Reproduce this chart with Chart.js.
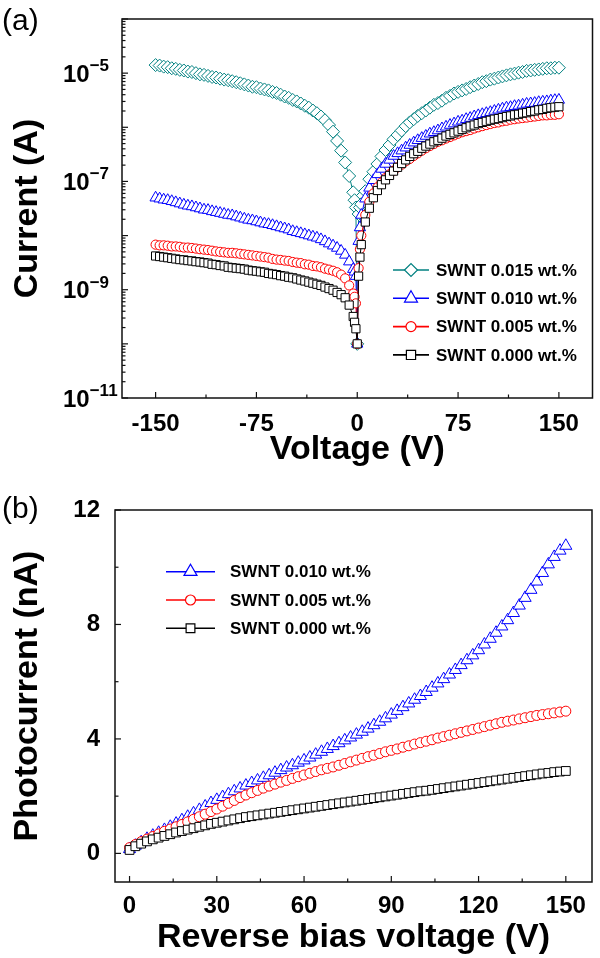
<!DOCTYPE html>
<html>
<head>
<meta charset="utf-8">
<script src="https://cdn.jsdelivr.net/npm/chart.js@4.4.1/dist/chart.umd.min.js"></script>
<style>
  body { margin: 0; background: #fff; }
  #wrap { position: relative; width: 600px; height: 958px; font-family: 'Liberation Sans', Arial, sans-serif; }
  canvas { position: absolute; left: 0; }
  #chartA { top: 0; }
  #chartB { top: 470px; }
  .panel { position: absolute; left: 2px; font-size: 30px; line-height: 30px; color: #000; }
</style>
</head>
<body>
<div id="wrap">
  <canvas id="chartA" width="600" height="470"></canvas>
  <canvas id="chartB" width="600" height="488"></canvas>
  <div class="panel" style="top:5px">(a)</div>
  <div class="panel" style="top:493px">(b)</div>
</div>
<script>
// (a) I-V curves, voltage in V, current in A
const voltA = [-150,-147,-144,-141,-138,-135,-132,-129,-126,-123,
  -120,-117,-114,-111,-108,-105,-102,-99,-96,-93,
  -90,-87,-84,-81,-78,-75,-72,-69,-66,-63,
  -60,-57,-54,-51,-48,-45,-42,-39,-36,-33,
  -30,-27,-24,-21,-18,-15,-12,-9,-6,-3,
  -2,-1,0,1,2,
  3,6,9,12,15,18,21,24,27,30,
  33,36,39,42,45,48,51,54,57,60,
  63,66,69,72,75,78,81,84,87,90,
  93,96,99,102,105,108,111,114,117,120,
  123,126,129,132,135,138,141,144,147,150];

const cur015 = [1.41e-5,1.38e-5,1.32e-5,1.29e-5,1.23e-5,1.20e-5,1.15e-5,1.12e-5,1.07e-5,1.05e-5,
  1.00e-5,9.5e-6,9.3e-6,8.9e-6,8.5e-6,8.3e-6,7.9e-6,7.6e-6,7.4e-6,7.1e-6,
  6.8e-6,6.5e-6,6.2e-6,5.9e-6,5.6e-6,5.5e-6,5.2e-6,5.0e-6,4.8e-6,4.5e-6,
  4.3e-6,4.0e-6,3.7e-6,3.5e-6,3.2e-6,3.0e-6,2.75e-6,2.5e-6,2.3e-6,2.04e-6,
  1.82e-6,1.58e-6,1.35e-6,1.10e-6,8.3e-7,5.6e-7,3.7e-7,2.24e-7,1.26e-7,6.3e-8,
  4.5e-8,3.3e-8,1.0e-10,2.5e-8,3.3e-8,
  3.8e-8,6.6e-8,1.10e-7,1.51e-7,2.1e-7,2.9e-7,3.8e-7,4.7e-7,6.0e-7,7.2e-7,
  8.7e-7,1.05e-6,1.23e-6,1.41e-6,1.62e-6,1.82e-6,2.04e-6,2.3e-6,2.6e-6,2.8e-6,
  3.1e-6,3.5e-6,3.8e-6,4.2e-6,4.5e-6,4.8e-6,5.1e-6,5.5e-6,5.9e-6,6.3e-6,
  6.8e-6,7.1e-6,7.6e-6,7.9e-6,8.3e-6,8.7e-6,9.1e-6,9.5e-6,9.8e-6,1.02e-5,
  1.05e-5,1.10e-5,1.12e-5,1.15e-5,1.17e-5,1.20e-5,1.23e-5,1.23e-5,1.26e-5,1.26e-5];

const cur010 = [5.0e-8,4.8e-8,4.6e-8,4.5e-8,4.3e-8,4.1e-8,3.9e-8,3.7e-8,3.55e-8,3.45e-8,
  3.3e-8,3.16e-8,3.0e-8,2.95e-8,2.8e-8,2.7e-8,2.6e-8,2.5e-8,2.4e-8,2.35e-8,
  2.24e-8,2.14e-8,2.04e-8,1.95e-8,1.9e-8,1.82e-8,1.74e-8,1.66e-8,1.62e-8,1.55e-8,
  1.48e-8,1.41e-8,1.35e-8,1.29e-8,1.2e-8,1.15e-8,1.10e-8,1.05e-8,1.0e-8,9.5e-9,
  9.1e-9,8.5e-9,7.8e-9,7.1e-9,6.5e-9,5.9e-9,5.2e-9,4.4e-9,3.3e-9,2.4e-9,
  2.14e-9,1.78e-9,1.0e-10,7.9e-9,1.41e-8,
  2.4e-8,4.8e-8,7.6e-8,1.05e-7,1.35e-7,1.7e-7,2.1e-7,2.5e-7,2.95e-7,3.3e-7,
  3.7e-7,4.2e-7,4.7e-7,5.2e-7,5.75e-7,6.3e-7,6.9e-7,7.6e-7,8.1e-7,8.7e-7,
  9.5e-7,1.02e-6,1.10e-6,1.17e-6,1.26e-6,1.32e-6,1.41e-6,1.48e-6,1.58e-6,1.66e-6,
  1.74e-6,1.82e-6,1.9e-6,2.0e-6,2.1e-6,2.2e-6,2.3e-6,2.35e-6,2.45e-6,2.5e-6,
  2.6e-6,2.7e-6,2.75e-6,2.8e-6,2.9e-6,2.95e-6,3.0e-6,3.1e-6,3.16e-6,3.2e-6];

const cur005 = [6.8e-9,6.6e-9,6.6e-9,6.5e-9,6.3e-9,6.3e-9,6.2e-9,6.0e-9,6.0e-9,5.9e-9,
  5.75e-9,5.6e-9,5.5e-9,5.4e-9,5.25e-9,5.1e-9,5.0e-9,4.9e-9,4.8e-9,4.8e-9,
  4.7e-9,4.6e-9,4.5e-9,4.4e-9,4.3e-9,4.2e-9,4.1e-9,4.0e-9,3.9e-9,3.7e-9,
  3.6e-9,3.55e-9,3.45e-9,3.4e-9,3.25e-9,3.16e-9,3.1e-9,2.95e-9,2.9e-9,2.75e-9,
  2.7e-9,2.6e-9,2.45e-9,2.35e-9,2.24e-9,2.1e-9,1.9e-9,1.62e-9,1.2e-9,8.5e-10,
  7.4e-10,5.6e-10,1.0e-10,2.5e-9,5.6e-9,
  1.0e-8,2.4e-8,4.2e-8,6.0e-8,7.8e-8,9.5e-8,1.15e-7,1.35e-7,1.58e-7,1.82e-7,
  2.04e-7,2.35e-7,2.6e-7,2.95e-7,3.3e-7,3.7e-7,4.1e-7,4.5e-7,4.9e-7,5.4e-7,
  5.75e-7,6.2e-7,6.6e-7,7.1e-7,7.6e-7,8.1e-7,8.5e-7,8.9e-7,9.5e-7,1.0e-6,
  1.05e-6,1.10e-6,1.15e-6,1.2e-6,1.23e-6,1.29e-6,1.32e-6,1.38e-6,1.41e-6,1.45e-6,
  1.48e-6,1.51e-6,1.55e-6,1.58e-6,1.62e-6,1.66e-6,1.66e-6,1.7e-6,1.7e-6,1.74e-6];

const cur000 = [4.2e-9,4.1e-9,4.0e-9,3.9e-9,3.8e-9,3.7e-9,3.6e-9,3.55e-9,3.45e-9,3.4e-9,
  3.3e-9,3.25e-9,3.16e-9,3.1e-9,2.95e-9,2.9e-9,2.8e-9,2.75e-9,2.6e-9,2.55e-9,
  2.5e-9,2.45e-9,2.4e-9,2.3e-9,2.24e-9,2.2e-9,2.14e-9,2.1e-9,2.0e-9,1.95e-9,
  1.9e-9,1.82e-9,1.78e-9,1.7e-9,1.66e-9,1.58e-9,1.51e-9,1.45e-9,1.38e-9,1.32e-9,
  1.26e-9,1.2e-9,1.12e-9,1.05e-9,9.8e-10,8.9e-10,8.1e-10,7.1e-10,5.2e-10,3.2e-10,
  2.5e-10,1.9e-10,1.0e-10,1.78e-9,4.0e-9,
  6.8e-9,1.78e-8,3.2e-8,5.0e-8,6.8e-8,8.7e-8,1.07e-7,1.29e-7,1.55e-7,1.82e-7,
  2.14e-7,2.5e-7,2.9e-7,3.25e-7,3.6e-7,4.1e-7,4.5e-7,4.9e-7,5.4e-7,5.75e-7,
  6.3e-7,6.9e-7,7.4e-7,7.9e-7,8.5e-7,9.1e-7,9.8e-7,1.05e-6,1.10e-6,1.17e-6,
  1.23e-6,1.29e-6,1.35e-6,1.41e-6,1.45e-6,1.51e-6,1.58e-6,1.62e-6,1.7e-6,1.74e-6,
  1.82e-6,1.86e-6,1.95e-6,2.0e-6,2.1e-6,2.14e-6,2.24e-6,2.3e-6,2.35e-6,2.4e-6];

const yExpLabelsA = [-5, -7, -9, -11];

// (b) photocurrent, reverse bias in V, current in nA
const voltB = [0,2,4,6,8,10,12,14,16,18,
  20,22,24,26,28,30,32,34,36,38,
  40,42,44,46,48,50,52,54,56,58,
  60,62,64,66,68,70,72,74,76,78,
  80,82,84,86,88,90,92,94,96,98,
  100,102,104,106,108,110,112,114,116,118,
  120,122,124,126,128,130,132,134,136,138,
  140,142,144,146,148,150];

const photo010 = [0.15,0.27,0.39,0.51,0.62,0.72,0.82,0.93,1.04,1.16,
  1.28,1.40,1.52,1.64,1.76,1.87,1.97,2.07,2.17,2.27,
  2.37,2.46,2.55,2.64,2.73,2.82,2.91,3.00,3.08,3.17,
  3.25,3.35,3.45,3.55,3.65,3.75,3.85,3.95,4.05,4.15,
  4.25,4.36,4.48,4.60,4.72,4.85,4.98,5.11,5.24,5.37,
  5.50,5.64,5.79,5.94,6.09,6.25,6.41,6.58,6.75,6.92,
  7.10,7.30,7.50,7.71,7.93,8.15,8.40,8.66,8.93,9.21,
  9.50,9.80,10.10,10.36,10.58,10.75];

const photo005 = [0.20,0.31,0.41,0.50,0.59,0.68,0.77,0.85,0.93,1.01,
  1.10,1.19,1.28,1.37,1.46,1.55,1.65,1.75,1.85,1.95,
  2.04,2.12,2.20,2.28,2.35,2.42,2.49,2.55,2.62,2.68,
  2.74,2.80,2.86,2.92,2.97,3.02,3.08,3.14,3.20,3.26,
  3.32,3.38,3.43,3.49,3.55,3.60,3.65,3.71,3.76,3.82,
  3.87,3.92,3.97,4.03,4.08,4.13,4.18,4.23,4.28,4.33,
  4.38,4.43,4.48,4.53,4.58,4.62,4.66,4.70,4.74,4.78,
  4.82,4.85,4.88,4.91,4.94,4.97];

const photo000 = [0.12,0.25,0.34,0.42,0.49,0.55,0.61,0.67,0.73,0.78,
  0.83,0.88,0.93,0.98,1.03,1.07,1.11,1.15,1.19,1.23,
  1.27,1.30,1.33,1.36,1.39,1.42,1.45,1.48,1.51,1.54,
  1.57,1.60,1.63,1.66,1.69,1.72,1.75,1.78,1.81,1.84,
  1.87,1.90,1.93,1.96,1.99,2.02,2.05,2.08,2.11,2.14,
  2.17,2.19,2.22,2.25,2.28,2.31,2.34,2.37,2.40,2.43,
  2.46,2.49,2.52,2.55,2.58,2.61,2.64,2.67,2.70,2.73,
  2.76,2.79,2.81,2.84,2.86,2.88];

const FONT = "'Liberation Sans', Arial, sans-serif";

const seriesA = [
  { label: 'SWNT 0.015 wt.%', values: cur015, color: '#008080', shape: 'rectRot', r: 6.5 },
  { label: 'SWNT 0.010 wt.%', values: cur010, color: '#0000ff', shape: 'triangle', r: 6.5 },
  { label: 'SWNT 0.005 wt.%', values: cur005, color: '#ff0000', shape: 'circle', r: 4.6 },
  { label: 'SWNT 0.000 wt.%', values: cur000, color: '#000000', shape: 'rect', r: 5.8 }
];
const seriesB = [
  { label: 'SWNT 0.010 wt.%', values: photo010, color: '#0000ff', shape: 'triangle', r: 7 },
  { label: 'SWNT 0.005 wt.%', values: photo005, color: '#ff0000', shape: 'circle', r: 5 },
  { label: 'SWNT 0.000 wt.%', values: photo000, color: '#000000', shape: 'rect', r: 6.2 }
];

function makeDatasets(series, xs) {
    return series.map(function (s, i) {
        return {
            label: s.label,
            data: xs.map(function (v, k) { return { x: v, y: s.values[k] }; }),
            borderColor: s.color,
            backgroundColor: s.color,
            borderWidth: 1,
            pointStyle: s.shape,
            pointRadius: s.r,
            pointBorderColor: s.color,
            pointBackgroundColor: '#fff',
            pointBorderWidth: 1,
            order: series.length - 1 - i
        };
    });
}

function drawMarker(ctx, shape, x, y, r) {
    ctx.beginPath();
    if (shape === 'circle') {
        ctx.arc(x, y, r, 0, Math.PI * 2);
    } else if (shape === 'rect') {
        const s = r * Math.SQRT1_2;
        ctx.rect(x - s, y - s, 2 * s, 2 * s);
    } else if (shape === 'rectRot') {
        ctx.moveTo(x - r, y); ctx.lineTo(x, y - r); ctx.lineTo(x + r, y); ctx.lineTo(x, y + r); ctx.closePath();
    } else {
        ctx.moveTo(x, y - r);
        ctx.lineTo(x + r * Math.sin(2 * Math.PI / 3), y - r * Math.cos(2 * Math.PI / 3));
        ctx.lineTo(x + r * Math.sin(4 * Math.PI / 3), y - r * Math.cos(4 * Math.PI / 3));
        ctx.closePath();
    }
    ctx.fill();
    ctx.stroke();
}

function tick(ctx, x1, y1, x2, y2) {
    ctx.beginPath(); ctx.moveTo(x1, y1); ctx.lineTo(x2, y2); ctx.stroke();
}

// frame, inward ticks and an in-plot legend
function framePlugin(cfg) {
    return {
        id: 'frame',
        afterDraw: function (chart) {
            const ctx = chart.ctx;
            const a = chart.chartArea;
            const xs = chart.scales.x, ys = chart.scales.y;
            ctx.save();
            ctx.strokeStyle = '#111';
            ctx.lineWidth = 1.5;
            ctx.strokeRect(a.left, a.top, a.right - a.left, a.bottom - a.top);
            ctx.lineWidth = 1.2;
            cfg.xMajor(xs).forEach(function (v) { const p = xs.getPixelForValue(v); tick(ctx, p, a.bottom, p, a.bottom - 6); });
            cfg.xMinor(xs).forEach(function (v) { const p = xs.getPixelForValue(v); tick(ctx, p, a.bottom, p, a.bottom - 3.5); });
            cfg.yMajor(ys).forEach(function (v) { const p = ys.getPixelForValue(v); tick(ctx, a.left, p, a.left + 6, p); });
            cfg.yMinor(ys).forEach(function (v) { const p = ys.getPixelForValue(v); tick(ctx, a.left, p, a.left + 3.5, p); });

            if (cfg.yLabels) cfg.yLabels(ctx, ys);

            const lg = cfg.legend;
            ctx.font = 'bold 17px ' + FONT;
            ctx.textBaseline = 'middle';
            ctx.textAlign = 'left';
            cfg.series.forEach(function (s, i) {
                const y = lg.y + i * lg.dy;
                ctx.strokeStyle = s.color;
                ctx.lineWidth = 1.6;
                tick(ctx, lg.x1, y, lg.x2, y);
                ctx.lineWidth = 1.2;
                ctx.fillStyle = '#fff';
                drawMarker(ctx, s.shape, (lg.x1 + lg.x2) / 2, y, lg.r[i]);
                ctx.fillStyle = '#000';
                ctx.fillText(s.label, lg.tx, y + 1);
            });
            ctx.restore();
        }
    };
}

function linearMinor(scale) {
    const t = scale.ticks.map(function (k) { return k.value; });
    const step = t[1] - t[0];
    const out = [];
    t.forEach(function (v) {
        if (v + step / 2 < scale.max) out.push(v + step / 2);
        if (v === t[0] && v - step / 2 > scale.min) out.push(v - step / 2);
    });
    return out;
}

const tickFont = { family: FONT, size: 24, weight: 'bold' };
const titleFont = { family: FONT, size: 34, weight: 'bold' };

new Chart(document.getElementById('chartA'), {
    type: 'line',
    data: { datasets: makeDatasets(seriesA, voltA) },
    options: {
        responsive: false,
        animation: false,
        devicePixelRatio: 1,
        layout: { padding: { top: 19, right: 2, left: 0, bottom: 0 } },
        plugins: { legend: { display: false }, tooltip: { enabled: false } },
        scales: {
            x: {
                type: 'linear', min: -175, max: 175,
                grid: { display: false }, border: { display: false },
                ticks: { stepSize: 75, includeBounds: false, padding: 4, color: '#000', font: tickFont },
                title: { display: true, text: 'Voltage (V)', color: '#000', font: titleFont, padding: { top: 0, bottom: 0 } },
                afterFit: function (s) { s.height = 72; }
            },
            y: {
                type: 'logarithmic', min: 1e-11, max: 1e-4,
                grid: { display: false }, border: { display: false },
                ticks: { display: false },
                title: { display: true, text: 'Current (A)', color: '#000', font: titleFont, padding: { top: 7, bottom: 0 } },
                afterFit: function (s) { s.width = 122; }
            }
        }
    },
    plugins: [framePlugin({
        series: seriesA,
        xMajor: function (s) { return s.ticks.map(function (k) { return k.value; }); },
        xMinor: linearMinor,
        yMajor: function () { const o = []; for (let e = -11; e <= -4; e++) o.push(Math.pow(10, e)); return o; },
        yMinor: function () { const o = []; for (let e = -11; e < -4; e++) for (let m = 2; m <= 9; m++) o.push(m * Math.pow(10, e)); return o; },
        yLabels: function (ctx, ys) {
            ctx.fillStyle = '#000';
            ctx.textAlign = 'left';
            ctx.textBaseline = 'alphabetic';
            yExpLabelsA.forEach(function (e) {
                const p = ys.getPixelForValue(Math.pow(10, e));
                ctx.font = 'bold 24px ' + FONT;
                ctx.fillText('10', 63, p + 8.5);
                const w = ctx.measureText('10').width;
                ctx.font = 'bold 17px ' + FONT;
                ctx.fillText('\u2212' + Math.abs(e), 63 + w, p - 2);
            });
        },
        legend: { x1: 393, x2: 429, tx: 436, y: 270, dy: 28.3, r: [6.5, 7.5, 5, 6.5] }
    })]
});

new Chart(document.getElementById('chartB'), {
    type: 'line',
    data: { datasets: makeDatasets(seriesB, voltB) },
    options: {
        responsive: false,
        animation: false,
        devicePixelRatio: 1,
        layout: { padding: { top: 40, right: 2, left: 0, bottom: 0 } },
        plugins: { legend: { display: false }, tooltip: { enabled: false } },
        scales: {
            x: {
                type: 'linear', min: -5, max: 159,
                grid: { display: false }, border: { display: false },
                ticks: { stepSize: 30, includeBounds: false, padding: 2, color: '#000', font: tickFont },
                title: { display: true, text: 'Reverse bias voltage (V)', color: '#000', font: titleFont, padding: { top: 0, bottom: 0 } },
                afterFit: function (s) { s.height = 76; }
            },
            y: {
                type: 'linear', min: -1, max: 12,
                grid: { display: false }, border: { display: false },
                ticks: { stepSize: 4, includeBounds: false, padding: 7, color: '#000', font: tickFont },
                title: { display: true, text: 'Photocurrent (nA)', color: '#000', font: titleFont, padding: { top: 7, bottom: 0 } },
                afterFit: function (s) { s.width = 115; }
            }
        }
    },
    plugins: [framePlugin({
        series: seriesB,
        xMajor: function (s) { return s.ticks.map(function (k) { return k.value; }); },
        xMinor: linearMinor,
        yMajor: function (s) { return s.ticks.map(function (k) { return k.value; }); },
        yMinor: linearMinor,
        legend: { x1: 166, x2: 215, tx: 230, y: 101.7, dy: 28.3, r: [7.5, 5, 6.2] }
    })]
});
</script>
</body>
</html>
